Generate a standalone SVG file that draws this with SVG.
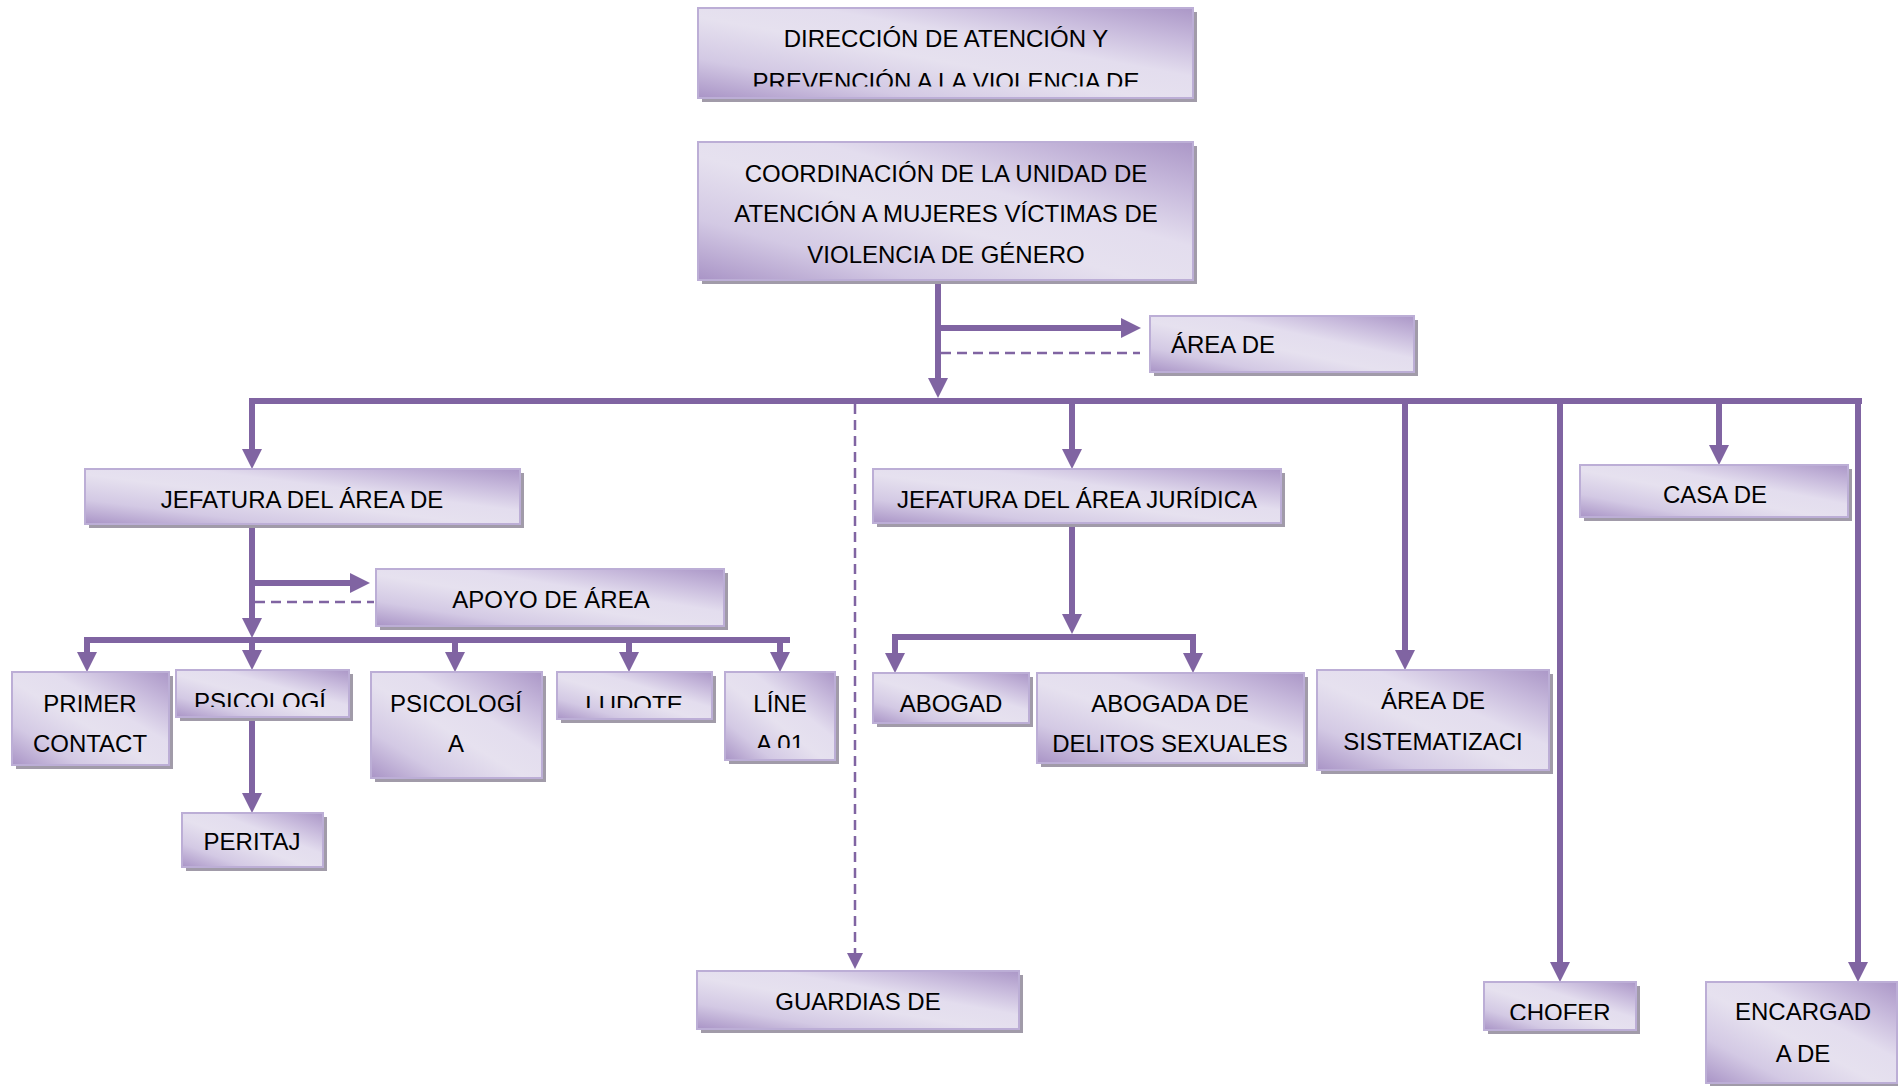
<svg xmlns="http://www.w3.org/2000/svg" width="1898" height="1086" viewBox="0 0 1898 1086">
<style>
.sh{fill:#a19ba9}
.bx{fill:url(#g);stroke:#bcaed6;stroke-width:2}
.t{font-family:"Liberation Sans",Arial,sans-serif;font-size:24px;fill:#000;text-anchor:middle}
.ln{fill:none;stroke:#8064a2;stroke-width:6}
.ds{fill:none;stroke:#8064a2;stroke-width:2.5;stroke-dasharray:10 6}
</style>
<defs>
<linearGradient id="g" x1="0" y1="1" x2="1" y2="0">
<stop offset="0" stop-color="#a994c6"/>
<stop offset="0.22" stop-color="#d3c9e4"/>
<stop offset="0.45" stop-color="#e6e1ef"/>
<stop offset="0.62" stop-color="#e3ddee"/>
<stop offset="0.82" stop-color="#c6b8db"/>
<stop offset="1" stop-color="#ab97c7"/>
</linearGradient>
<marker id="ah" markerWidth="20" markerHeight="20" refX="10" refY="10" orient="auto" markerUnits="userSpaceOnUse"><path d="M0,0 L20,10 L0,20 z" fill="#8064a2"/></marker>
<marker id="as" markerWidth="16" markerHeight="16" refX="8" refY="8" orient="auto" markerUnits="userSpaceOnUse"><path d="M0,0 L16,8 L0,16 z" fill="#8064a2"/></marker>
<clipPath id="c1"><rect x="698" y="8" width="495" height="78.5"/></clipPath>
<clipPath id="c2"><rect x="176" y="670" width="173" height="37"/></clipPath>
<clipPath id="c3"><rect x="557" y="672" width="155" height="36"/></clipPath>
<clipPath id="c4"><rect x="725" y="672" width="110" height="76"/></clipPath>
<clipPath id="c5"><rect x="1484" y="982" width="152" height="38"/></clipPath>
</defs>

<g id="connectors">
<path class="ln" d="M938 281 V388" marker-end="url(#ah)"/>
<path class="ln" d="M938 328 H1131" marker-end="url(#ah)"/>
<path class="ds" d="M941 353 H1140"/>
<path class="ln" d="M249 401 H1862"/>
<path class="ln" d="M252 398 V459" marker-end="url(#ah)"/>
<path class="ds" d="M855 404 V961" marker-end="url(#as)"/>
<path class="ln" d="M1072 401 V459" marker-end="url(#ah)"/>
<path class="ln" d="M1405 398 V660" marker-end="url(#ah)"/>
<path class="ln" d="M1560 398 V972" marker-end="url(#ah)"/>
<path class="ln" d="M1719 398 V455" marker-end="url(#ah)"/>
<path class="ln" d="M1858 398 V972" marker-end="url(#ah)"/>
<path class="ln" d="M252 524 V628" marker-end="url(#ah)"/>
<path class="ln" d="M252 583 H360" marker-end="url(#ah)"/>
<path class="ds" d="M255 602 H374"/>
<path class="ln" d="M84 640 H790"/>
<path class="ln" d="M87 637 V662" marker-end="url(#ah)"/>
<path class="ln" d="M252 640 V660" marker-end="url(#ah)"/>
<path class="ln" d="M455 637 V662" marker-end="url(#ah)"/>
<path class="ln" d="M629 637 V662" marker-end="url(#ah)"/>
<path class="ln" d="M780 637 V662" marker-end="url(#ah)"/>
<path class="ln" d="M252 717 V803" marker-end="url(#ah)"/>
<path class="ln" d="M1072 523 V624" marker-end="url(#ah)"/>
<path class="ln" d="M1072 637 H895 V663" marker-end="url(#ah)"/>
<path class="ln" d="M1072 637 H1193 V663" marker-end="url(#ah)"/>
</g>

<g id="direccion">
<rect class="sh" x="702" y="12" width="495" height="90"/>
<rect class="bx" x="698" y="8" width="495" height="90"/>
<text class="t" x="946" y="47">DIRECCIÓN DE ATENCIÓN Y</text>
<text class="t" x="946" y="90" clip-path="url(#c1)">PREVENCIÓN A LA VIOLENCIA DE</text>
</g>

<g id="coordinacion">
<rect class="sh" x="702" y="146" width="495" height="138"/>
<rect class="bx" x="698" y="142" width="495" height="138"/>
<text class="t" x="946" y="182">COORDINACIÓN DE LA UNIDAD DE</text>
<text class="t" x="946" y="222">ATENCIÓN A MUJERES VÍCTIMAS DE</text>
<text class="t" x="946" y="263">VIOLENCIA DE GÉNERO</text>
</g>

<g id="area_de">
<rect class="sh" x="1154" y="320" width="264" height="56"/>
<rect class="bx" x="1150" y="316" width="264" height="56"/>
<text class="t" x="1171" y="353" style="text-anchor:start">ÁREA DE</text>
</g>

<g id="jefatura_area">
<rect class="sh" x="89" y="473" width="435" height="55"/>
<rect class="bx" x="85" y="469" width="435" height="55"/>
<text class="t" x="302" y="508">JEFATURA DEL ÁREA DE</text>
</g>

<g id="apoyo">
<rect class="sh" x="380" y="573" width="348" height="57"/>
<rect class="bx" x="376" y="569" width="348" height="57"/>
<text class="t" x="551" y="608">APOYO DE ÁREA</text>
</g>

<g id="jefatura_juridica">
<rect class="sh" x="877" y="473" width="408" height="54"/>
<rect class="bx" x="873" y="469" width="408" height="54"/>
<text class="t" x="1077" y="508">JEFATURA DEL ÁREA JURÍDICA</text>
</g>

<g id="casa">
<rect class="sh" x="1584" y="469" width="268" height="52"/>
<rect class="bx" x="1580" y="465" width="268" height="52"/>
<text class="t" x="1715" y="503">CASA DE</text>
</g>

<g id="primer_contacto">
<rect class="sh" x="16" y="676" width="157" height="93"/>
<rect class="bx" x="12" y="672" width="157" height="93"/>
<text class="t" x="90" y="712">PRIMER</text>
<text class="t" x="90" y="752">CONTACT</text>
</g>

<g id="psicologia1">
<rect class="sh" x="180" y="674" width="173" height="47"/>
<rect class="bx" x="176" y="670" width="173" height="47"/>
<text class="t" x="260" y="710" clip-path="url(#c2)">PSICOLOGÍ</text>
</g>

<g id="psicologia2">
<rect class="sh" x="375" y="676" width="171" height="106"/>
<rect class="bx" x="371" y="672" width="171" height="106"/>
<text class="t" x="456" y="712">PSICOLOGÍ</text>
<text class="t" x="456" y="752">A</text>
</g>

<g id="ludoteca">
<rect class="sh" x="561" y="676" width="155" height="47"/>
<rect class="bx" x="557" y="672" width="155" height="47"/>
<text class="t" x="634" y="713" clip-path="url(#c3)">LUDOTE</text>
</g>

<g id="linea">
<rect class="sh" x="729" y="676" width="110" height="88"/>
<rect class="bx" x="725" y="672" width="110" height="88"/>
<text class="t" x="780" y="712">LÍNE</text>
<text class="t" x="780" y="752" clip-path="url(#c4)">A 01</text>
</g>

<g id="peritaje">
<rect class="sh" x="186" y="817" width="141" height="54"/>
<rect class="bx" x="182" y="813" width="141" height="54"/>
<text class="t" x="252" y="850">PERITAJ</text>
</g>

<g id="abogado">
<rect class="sh" x="877" y="677" width="156" height="50"/>
<rect class="bx" x="873" y="673" width="156" height="50"/>
<text class="t" x="951" y="712">ABOGAD</text>
</g>

<g id="abogada_delitos">
<rect class="sh" x="1041" y="677" width="267" height="90"/>
<rect class="bx" x="1037" y="673" width="267" height="90"/>
<text class="t" x="1170" y="712">ABOGADA DE</text>
<text class="t" x="1170" y="752">DELITOS SEXUALES</text>
</g>

<g id="area_sistematizacion">
<rect class="sh" x="1321" y="674" width="232" height="100"/>
<rect class="bx" x="1317" y="670" width="232" height="100"/>
<text class="t" x="1433" y="709">ÁREA DE</text>
<text class="t" x="1433" y="750">SISTEMATIZACI</text>
</g>

<g id="guardias">
<rect class="sh" x="701" y="975" width="322" height="58"/>
<rect class="bx" x="697" y="971" width="322" height="58"/>
<text class="t" x="858" y="1010">GUARDIAS DE</text>
</g>

<g id="chofer">
<rect class="sh" x="1488" y="986" width="152" height="48"/>
<rect class="bx" x="1484" y="982" width="152" height="48"/>
<text class="t" x="1560" y="1021" clip-path="url(#c5)">CHOFER</text>
</g>

<g id="encargada">
<rect class="sh" x="1710" y="986" width="191" height="101"/>
<rect class="bx" x="1706" y="982" width="191" height="101"/>
<text class="t" x="1803" y="1020">ENCARGAD</text>
<text class="t" x="1803" y="1062">A DE</text>
</g>
</svg>
